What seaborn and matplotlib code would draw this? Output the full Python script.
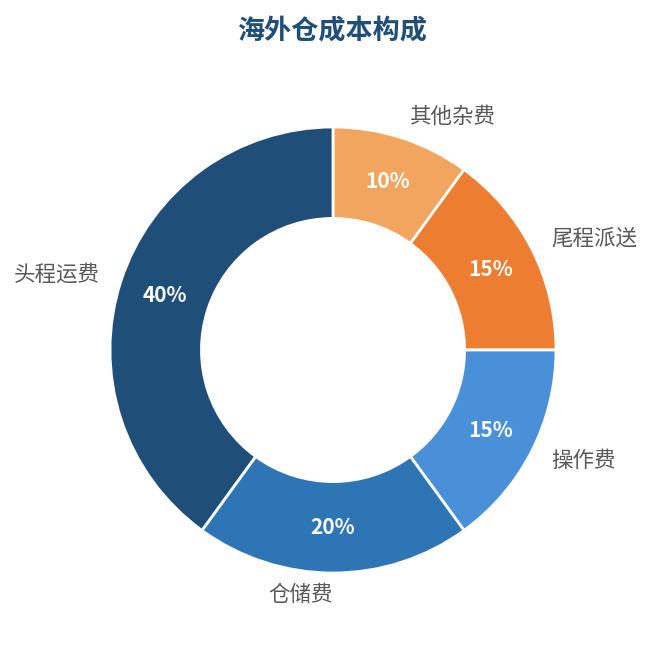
import matplotlib
matplotlib.use("Agg")
import matplotlib.pyplot as plt
import seaborn as sns

# Data
categories = ['其他杂费', '尾程派送', '操作费', '仓储费', '头程运费']
shares = [10, 15, 15, 20, 40]
colors = ['#f2a55f', '#ed7d31', '#4a90d9', '#2e75b6', '#1f4e79']

sns.set_theme(style="white")
plt.rcParams['font.family'] = ['Noto Sans CJK SC', 'DejaVu Sans']

fig = plt.figure(figsize=(6.51, 6.45), dpi=100)
ax = fig.add_axes([0, 0, 1, 1])

wedges, texts, autotexts = ax.pie(
    shares,
    labels=categories,
    colors=colors,
    startangle=90,
    counterclock=False,
    radius=1.0,
    labeldistance=1.1,
    pctdistance=0.795,
    autopct='%1.0f%%',
    wedgeprops=dict(width=0.41, edgecolor='white', linewidth=2),
    textprops=dict(fontsize=15.5, color='#595959'),
)
for t in autotexts:
    t.set_color('white')
    t.set_fontsize(15)
    t.set_fontweight('bold')

ax.set_aspect('equal')
ax.set_xlim(-333 / 223, (651 - 333) / 223)
ax.set_ylim(-(645 - 350) / 223, 350 / 223)
ax.axis('off')

fig.text(0.51, 1 - 30 / 645, '海外仓成本构成', ha='center', va='center',
         fontsize=19.5, fontweight='bold', color='#1f4e79')

fig.savefig('out.png', dpi=100, facecolor='white')
